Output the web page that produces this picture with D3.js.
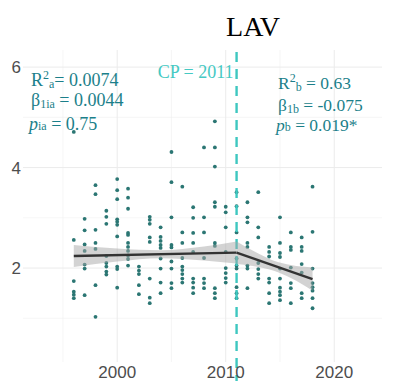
<!DOCTYPE html>
<html>
<head>
<meta charset="utf-8">
<script src="https://cdn.jsdelivr.net/npm/d3@7"></script>
<style>
  body { margin: 0; background: #fff; }
  svg { display: block; }
</style>
</head>
<body>
<div id="chart"></div>
<script>
// observed LAV values, one list per year
var years = [1996, 1997, 1998, 1999, 2000, 2001, 2002, 2003, 2004, 2005, 2006, 2007,
             2008, 2009, 2010, 2011, 2012, 2013, 2014, 2015, 2016, 2017, 2018];
var lavValues = [
  [4.71, 2.56, 1.74, 1.53, 1.47, 1.40],
  [2.98, 2.75, 2.47, 2.34, 2.07, 1.99, 1.46],
  [3.65, 3.47, 2.76, 2.50, 2.38, 1.66, 1.03],
  [3.14, 3.02, 2.88, 2.24, 2.10, 2.03, 1.93, 1.87],
  [3.77, 3.55, 3.37, 2.97, 2.92, 2.86, 2.63, 2.03, 1.98, 1.61],
  [3.58, 3.40, 3.18, 2.70, 2.66, 2.50, 2.42, 2.34, 2.25, 2.18, 2.05],
  [2.03, 1.95, 1.88, 1.66, 1.48],
  [3.02, 2.96, 2.88, 2.61, 2.52, 1.79, 1.41, 1.30],
  [2.81, 2.62, 2.54, 2.46, 2.40, 2.19, 1.99, 1.71, 1.50],
  [4.31, 3.71, 3.01, 2.46, 2.41, 2.13, 1.99, 1.70, 1.60],
  [3.62, 2.71, 2.50, 2.20, 2.03, 1.96, 1.88, 1.79, 1.71],
  [3.21, 3.00, 2.70, 2.50, 2.32, 1.79, 1.71, 1.61, 1.50],
  [4.40, 3.01, 2.71, 2.20, 1.79, 1.70, 1.60],
  [4.92, 4.40, 4.02, 3.31, 3.22, 2.50, 2.44, 1.60, 1.50, 1.40],
  [3.22, 3.11, 2.81, 2.32, 2.00, 1.90, 1.80, 1.71],
  [3.51, 3.23, 2.71, 2.19, 2.05, 1.99, 1.62, 1.50, 1.40],
  [3.31, 3.01, 2.91, 2.50, 2.42, 2.05, 1.99, 1.60],
  [3.51, 2.81, 2.61, 2.10, 1.98, 1.88, 1.79],
  [2.42, 2.32, 2.23, 1.79, 1.71, 1.50, 1.30],
  [3.01, 2.50, 2.30, 2.22, 1.99, 1.79, 1.61, 1.53, 1.46, 1.36],
  [2.71, 2.42, 2.36, 2.01, 1.70, 1.60, 1.30],
  [2.61, 2.42, 2.34, 2.08, 1.91, 1.50, 1.40],
  [3.62, 2.72, 1.99, 1.70, 1.62, 1.55, 1.40, 1.20]
];

// piecewise fit and its confidence band
var fitYearsA = [1996, 2000, 2004, 2008, 2011];
var fitA      = [2.24, 2.258, 2.275, 2.293, 2.306];
var ciLowA    = [2.02, 2.13, 2.195, 2.15, 2.09];
var ciHighA   = [2.46, 2.39, 2.355, 2.43, 2.53];
var fitYearsB = [2011, 2013, 2014.5, 2016, 2018];
var fitB      = [2.306, 2.155, 2.04, 1.93, 1.78];
var ciLowB    = [2.08, 2.02, 1.94, 1.80, 1.55];
var ciHighB   = [2.53, 2.29, 2.14, 2.06, 2.01];

var changePoint = 2011;
var xTicks = [2000, 2010, 2020];
var xMinor = [1995, 2005, 2015];
var yTicks = [2, 4, 6];
var yMinor = [1, 3, 5];

var W = 396, H = 381;
var panel = {left: 23, right: 382, top: 50, bottom: 362};

var svg = d3.select("#chart").append("svg")
  .attr("width", W)
  .attr("height", H);

var x = d3.scaleLinear().domain([1991.32, 2024.4]).range([panel.left, panel.right]);
var y = d3.scaleLinear().domain([0.13, 6.34]).range([panel.bottom, panel.top]);

// grid
svg.append("g").selectAll("line.vminor").data(xMinor).enter().append("line")
  .attr("x1", d => x(d)).attr("x2", d => x(d))
  .attr("y1", panel.top).attr("y2", panel.bottom)
  .attr("stroke", "#f0f0f0").attr("stroke-width", 0.6);
svg.append("g").selectAll("line.hminor").data(yMinor).enter().append("line")
  .attr("x1", panel.left).attr("x2", panel.right)
  .attr("y1", d => y(d)).attr("y2", d => y(d))
  .attr("stroke", "#f0f0f0").attr("stroke-width", 0.6);
svg.append("g").selectAll("line.vmajor").data(xTicks).enter().append("line")
  .attr("x1", d => x(d)).attr("x2", d => x(d))
  .attr("y1", panel.top).attr("y2", panel.bottom)
  .attr("stroke", "#ebebeb").attr("stroke-width", 1);
svg.append("g").selectAll("line.hmajor").data(yTicks).enter().append("line")
  .attr("x1", panel.left).attr("x2", panel.right)
  .attr("y1", d => y(d)).attr("y2", d => y(d))
  .attr("stroke", "#ebebeb").attr("stroke-width", 1);

// points
var pts = [];
years.forEach(function(yr, i) {
  lavValues[i].forEach(function(v) { pts.push({year: yr, value: v}); });
});
svg.append("g").selectAll("circle").data(pts).enter().append("circle")
  .attr("cx", d => x(d.year))
  .attr("cy", d => y(d.value))
  .attr("r", 1.9)
  .attr("fill", "#2b7673");

// change point line
svg.append("line")
  .attr("x1", x(changePoint)).attr("x2", x(changePoint))
  .attr("y1", panel.top).attr("y2", H)
  .attr("stroke", "#3ec7c0")
  .attr("stroke-width", 2.4)
  .attr("stroke-dasharray", "10,7")
  .attr("stroke-dashoffset", -2);

// ribbons + fit lines
function drawSegment(yrs, fit, lo, hi) {
  var d = yrs.map(function(yr, i) { return {year: yr, fit: fit[i], lo: lo[i], hi: hi[i]}; });
  var area = d3.area().curve(d3.curveMonotoneX)
    .x(p => x(p.year)).y0(p => y(p.lo)).y1(p => y(p.hi));
  svg.append("path").datum(d)
    .attr("d", area)
    .attr("fill", "#a8a8a8")
    .attr("fill-opacity", 0.5);
  var line = d3.line().x(p => x(p.year)).y(p => y(p.fit));
  svg.append("path").datum([d[0], d[d.length - 1]])
    .attr("d", line)
    .attr("fill", "none")
    .attr("stroke", "#333333")
    .attr("stroke-width", 2.4);
}
drawSegment(fitYearsA, fitA, ciLowA, ciHighA);
drawSegment(fitYearsB, fitB, ciLowB, ciHighB);

// axis labels
var tickFont = "'Liberation Sans', Arial, sans-serif";
svg.append("g").selectAll("text").data(xTicks).enter().append("text")
  .attr("x", d => x(d)).attr("y", 378)
  .attr("text-anchor", "middle")
  .style("font-family", tickFont).style("font-size", "17px")
  .attr("fill", "#4d4d4d")
  .text(d => d);
svg.append("g").selectAll("text").data(yTicks).enter().append("text")
  .attr("x", 21).attr("y", d => y(d) + 6)
  .attr("text-anchor", "end")
  .style("font-family", tickFont).style("font-size", "17px")
  .attr("fill", "#4d4d4d")
  .text(d => d);

// title
var serif = "'Liberation Serif', 'Times New Roman', serif";
svg.append("text")
  .attr("x", 253).attr("y", 36)
  .attr("text-anchor", "middle")
  .style("font-family", serif).style("font-size", "28px")
  .attr("fill", "#000")
  .text("LAV");

// CP label
svg.append("text")
  .attr("x", x(changePoint) - 3).attr("y", 78)
  .attr("text-anchor", "end")
  .style("font-family", serif).style("font-size", "18px")
  .attr("fill", "#45c9c3")
  .text("CP = " + changePoint);

// stats annotations
var annColor = "#1b7f8a";
function statLine(xp, yp, size, parts) {
  var t = svg.append("text")
    .attr("x", xp).attr("y", yp)
    .style("font-family", serif).style("font-size", size + "px")
    .attr("fill", annColor);
  parts.forEach(function(p) {
    var s = t.append("tspan").text(p.t);
    if (p.small) s.style("font-size", "12px");
    if (p.dy) s.attr("dy", p.dy);
    if (p.it) s.style("font-style", "italic");
  });
}
statLine(31, 86, 18, [{t: "R"}, {t: "2", small: true, dy: -7}, {t: "a", small: true, dy: 9}, {t: "= 0.0074", dy: -2}]);
statLine(31, 106, 18, [{t: "β"}, {t: "1ia", small: true, dy: 2}, {t: " = 0.0044", dy: -2}]);
statLine(29, 130, 18, [{t: "p", it: true}, {t: "ia", small: true}, {t: " = 0.75"}]);

statLine(278, 89, 17.5, [{t: "R"}, {t: "2", small: true, dy: -7}, {t: "b", small: true, dy: 9}, {t: " = 0.63", dy: -2}]);
statLine(278, 111, 17.5, [{t: "β"}, {t: "1b", small: true, dy: 2}, {t: " = -0.075", dy: -2}]);
statLine(276, 131, 17.5, [{t: "p", it: true}, {t: "b", small: true}, {t: " = 0.019*"}]);
</script>
</body>
</html>
